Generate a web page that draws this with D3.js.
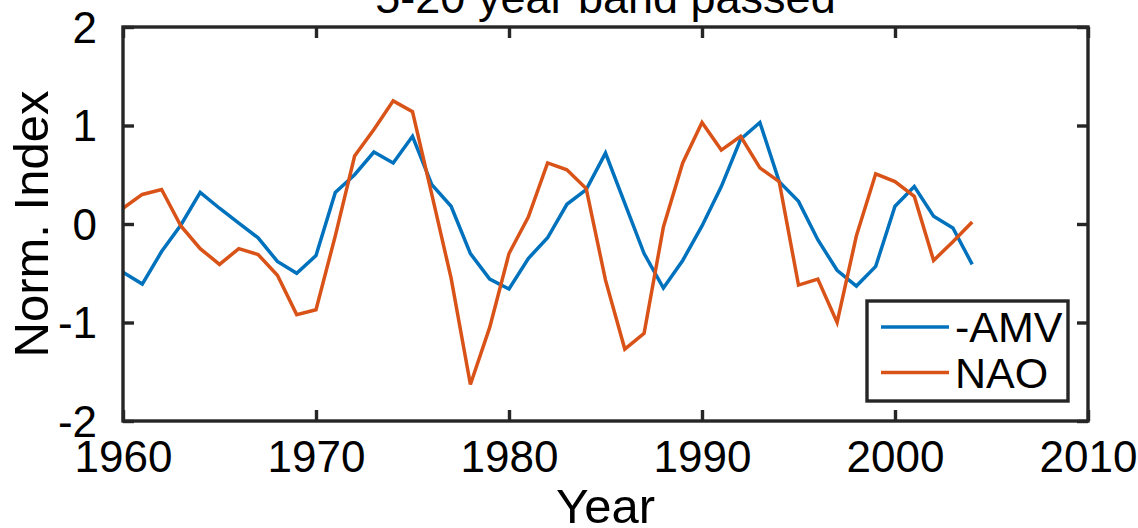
<!DOCTYPE html>
<html><head><meta charset="utf-8">
<script src="https://cdn.jsdelivr.net/npm/d3@7/dist/d3.min.js"></script>
<style>body{margin:0;background:#fff}svg{display:block}text{font-family:"Liberation Sans",Arial,sans-serif;fill:#000}</style>
</head><body>
<script>
const years = d3.range(1960, 2005);
const amv = [-0.49,-0.61,-0.28,-0.01,0.32,0.16,0.01,-0.14,-0.38,-0.50,-0.32,0.32,0.50,0.73,0.62,0.89,0.40,0.18,-0.30,-0.56,-0.66,-0.35,-0.14,0.20,0.35,0.72,0.21,-0.30,-0.65,-0.37,-0.02,0.38,0.86,1.03,0.43,0.23,-0.16,-0.47,-0.63,-0.43,0.18,0.38,0.08,-0.04,-0.41];
const nao = [0.16,0.30,0.35,-0.02,-0.25,-0.41,-0.25,-0.31,-0.52,-0.92,-0.87,-0.12,0.69,0.96,1.25,1.14,0.30,-0.55,-1.63,-1.05,-0.30,0.07,0.62,0.55,0.36,-0.57,-1.27,-1.11,-0.03,0.62,1.03,0.75,0.89,0.57,0.43,-0.62,-0.56,-1.00,-0.12,0.51,0.43,0.28,-0.37,-0.18,0.02];
const xTicks = [1960,1970,1980,1990,2000,2010];
const yTicks = [-2,-1,0,1,2];
const series = [{name:"-AMV", values:amv, color:"#0072BD"},{name:"NAO", values:nao, color:"#D95319"}];

const W=1138,H=528;
const L=123,R=1088,T=27,B=421;
const svg=d3.select("body").append("svg").attr("width",W).attr("height",H);
const x=d3.scaleLinear().domain([1960,2010]).range([L,R]);
const y=d3.scaleLinear().domain([-2,2]).range([B,T]);
const axc="#262626";

// lines
const line=d3.line().x((d,i)=>x(years[i])).y(d=>y(d));
series.forEach(s=>{
  svg.append("path").attr("d",line(s.values)).attr("fill","none")
    .attr("stroke",s.color).attr("stroke-width",3.5).attr("stroke-linejoin","miter");
});

// box
svg.append("rect").attr("x",L).attr("y",T).attr("width",R-L).attr("height",B-T)
  .attr("fill","none").attr("stroke",axc).attr("stroke-width",3.4);

// axes (ticks inward)
const tl=11;
const fmt=d=>String(d);
const gx=svg.append("g").attr("transform",`translate(0,${B})`)
  .call(d3.axisBottom(x).tickValues(xTicks).tickFormat(fmt).tickSize(-tl).tickPadding(tl+9));
const gxt=svg.append("g").attr("transform",`translate(0,${T})`)
  .call(d3.axisTop(x).tickValues(xTicks).tickFormat("").tickSize(-tl));
const gy=svg.append("g").attr("transform",`translate(${L},0)`)
  .call(d3.axisLeft(y).tickValues(yTicks).tickFormat(fmt).tickSize(-tl).tickPadding(tl+15));
const gyr=svg.append("g").attr("transform",`translate(${R},0)`)
  .call(d3.axisRight(y).tickValues(yTicks).tickFormat("").tickSize(-tl));
[gx,gxt,gy,gyr].forEach(g=>{
  g.select(".domain").remove();
  g.selectAll(".tick line").attr("stroke",axc).attr("stroke-width",3.4);
  g.selectAll("text").style("font-size","44px").attr("fill","#000").style("font-family",'"Liberation Sans",Arial,sans-serif');
});
gx.selectAll(".tick text").attr("dy","0.71em");
gy.selectAll(".tick text").attr("dy","0.35em");

// labels
svg.append("text").attr("x",(L+R)/2).attr("y",523).attr("text-anchor","middle")
  .style("font-size","49px").text("Year");
svg.append("text").attr("transform",`translate(48,${(T+B)/2}) rotate(-90)`).attr("text-anchor","middle")
  .style("font-size","49px").text("Norm. Index");
svg.append("text").attr("x",(L+R)/2).attr("y",13).attr("text-anchor","middle")
  .style("font-size","45px").text("5-20 year band passed");

// legend
const lg=svg.append("g");
lg.append("rect").attr("x",867).attr("y",301).attr("width",201).attr("height",100)
  .attr("fill","#fff").attr("stroke",axc).attr("stroke-width",3.4);
series.forEach((s,i)=>{
  const ly=327+i*45.5;
  lg.append("line").attr("x1",881).attr("x2",949).attr("y1",ly).attr("y2",ly)
    .attr("stroke",s.color).attr("stroke-width",3.5);
  lg.append("text").attr("x",955).attr("y",ly).attr("dy","0.36em")
    .style("font-size","43px").text(s.name);
});
</script>
</body></html>
